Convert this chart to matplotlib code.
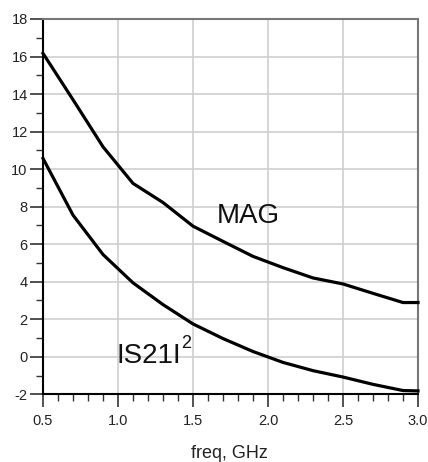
import matplotlib
matplotlib.use("Agg")
import matplotlib.pyplot as plt
from matplotlib.ticker import MultipleLocator

plt.rcParams['font.family'] = ['Liberation Sans', 'DejaVu Sans']

freq = [0.5, 0.7, 0.9, 1.1, 1.3, 1.5, 1.7, 1.9, 2.1, 2.3, 2.5, 2.7, 2.9, 3.0]
mag = [16.17, 13.7, 11.19, 9.24, 8.22, 6.96, 6.15, 5.35, 4.75, 4.2, 3.88, 3.38, 2.89, 2.89]
s21 = [10.57, 7.55, 5.45, 3.94, 2.78, 1.75, 0.97, 0.28, -0.3, -0.74, -1.08, -1.47, -1.8, -1.82]

xticks = [0.5, 1.0, 1.5, 2.0, 2.5, 3.0]
xticklabels = ["0.5", "1.0", "1.5", "2.0", "2.5", "3.0"]
yticks = [-2, 0, 2, 4, 6, 8, 10, 12, 14, 16, 18]

W, H = 428, 462
fig = plt.figure(figsize=(W / 100, H / 100), dpi=100)
ax = fig.add_axes([43 / W, 1 - 394.3 / H, (418 - 43) / W, (394.3 - 19) / H])

ax.plot(freq, mag, color='black', lw=2.3, solid_joinstyle='round', zorder=3, clip_on=False)
ax.plot(freq, s21, color='black', lw=2.3, solid_joinstyle='round', zorder=3, clip_on=False)

ax.set_xlim(0.5, 3.0)
ax.set_ylim(-2, 18)
ax.set_xticks(xticks)
ax.set_xticklabels(xticklabels)
ax.set_yticks(yticks)
ax.set_yticklabels([str(v) for v in yticks])
ax.xaxis.set_minor_locator(MultipleLocator(0.1))
ax.yaxis.set_minor_locator(MultipleLocator(1))

ax.grid(True, which='major', color='#cfcfcf', lw=1.2)
ax.set_axisbelow(True)

ax.tick_params(which='major', direction='out', length=9.5, width=1.2, color='#333333',
               labelsize=10.5, labelcolor='#222222')
ax.tick_params(which='minor', direction='out', length=5, width=1.0, color='#333333')
ax.tick_params(axis='y', which='major', pad=1.5)
ax.tick_params(axis='x', which='major', pad=4.5)
ax.tick_params(top=False, right=False, which='both')

for s in ['left', 'bottom']:
    ax.spines[s].set_color('black')
    ax.spines[s].set_linewidth(1.5)
for s in ['top', 'right']:
    ax.spines[s].set_color('#777777')
    ax.spines[s].set_linewidth(1.5)

ax.text(1.66, 7.12, "MAG", fontsize=20, ha='left', va='baseline', color='#111111')
ax.text(0.987, -0.35, "IS21I", fontsize=20, ha='left', va='baseline', color='#111111')
ax.text(1.418, 0.45, "2", fontsize=13, ha='left', va='baseline', color='#111111')

fig.text(229 / W, 1 - 458 / H, "freq, GHz", fontsize=13, ha='center', va='baseline', color='#222222')

fig.savefig("out.png", dpi=100, facecolor='white')
